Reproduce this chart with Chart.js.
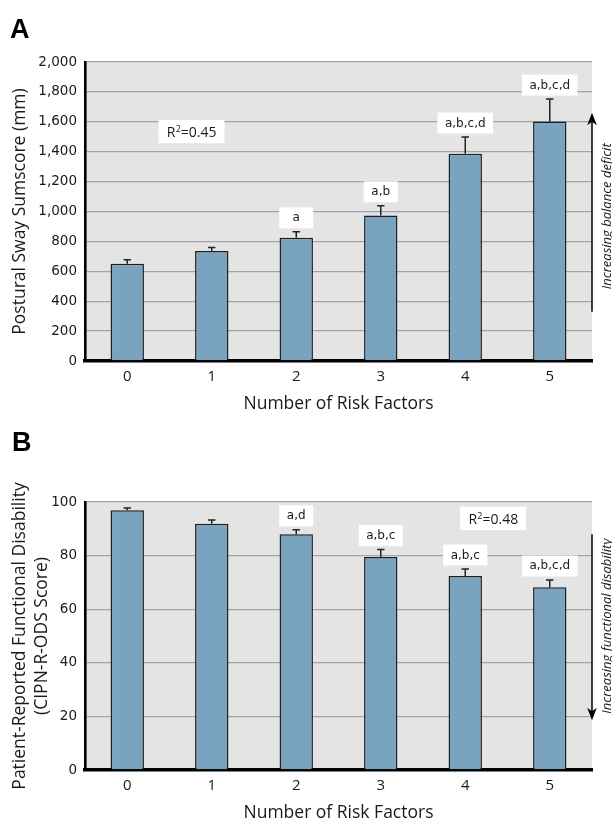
<!DOCTYPE html>
<html><head><meta charset="utf-8">
<script src="https://cdn.jsdelivr.net/npm/chart.js@4.4.0/dist/chart.umd.min.js"></script>
<style>
html,body{margin:0;padding:0;background:#fff;}
#wrap{position:relative;width:612px;height:822px;overflow:hidden;background:#fff;}
canvas{position:absolute;left:0;}
#cA{top:0;} #cB{top:420px;}
</style></head><body>
<div id="wrap"><canvas id="cA" width="612" height="420"></canvas><canvas id="cB" width="612" height="402"></canvas></div>
<script>
// ---------- data ----------
const categories = ['0', '1', '2', '3', '4', '5'];
const swayMeans = [650, 735, 825, 973, 1386, 1602];
const swayErrors = [28, 24, 39, 65, 112, 150];
const swayLetters = ['', '', 'a', 'a,b', 'a,b,c,d', 'a,b,c,d'];
const disabilityMeans = [96.9, 91.9, 88.0, 79.5, 72.4, 68.2];
const disabilityErrors = [0.9, 1.4, 1.6, 2.8, 2.6, 2.7];
const disabilityLetters = ['', '', 'a,d', 'a,b,c', 'a,b,c', 'a,b,c,d'];
const swayTicks = [0, 200, 400, 600, 800, 1000, 1200, 1400, 1600, 1800, 2000];
const disabilityTicks = [0, 20, 40, 60, 80, 100];
const swayR2 = '0.45';
const disabilityR2 = '0.48';

// ---------- styles ----------
const FONT = '"Open Sans", "DejaVu Sans", sans-serif';
const TICKFONT = '"DejaVu Sans", sans-serif';
const BAR_FILL = '#79a3bf';
const BAR_EDGE = '#1e1e1e';
const PLOT_BG = '#e4e4e4';
const GRID = '#a3a3a3';
const INK = '#1a1a1a';

function panelPlugin(p) {
  return {
    id: 'panel' + p.letter,
    beforeDraw(chart) {
      const {ctx, chartArea: a} = chart;
      ctx.save();
      ctx.fillStyle = PLOT_BG;
      ctx.fillRect(a.left, a.top, a.right - a.left, a.bottom - a.top);
      ctx.restore();
    },
    afterDatasetsDraw(chart) {
      const {ctx} = chart;
      const xs = chart.scales.x, ys = chart.scales.y;
      const means = p.means, errs = p.errors;
      ctx.save();
      // error bars
      ctx.strokeStyle = '#222';
      ctx.lineWidth = 1.5;
      for (let i = 0; i < means.length; i++) {
        const x = xs.getPixelForValue(i);
        const y0 = ys.getPixelForValue(means[i]);
        const y1 = ys.getPixelForValue(means[i] + errs[i]);
        ctx.beginPath();
        ctx.moveTo(x, y0); ctx.lineTo(x, y1);
        ctx.moveTo(x - 3.7, y1); ctx.lineTo(x + 3.7, y1);
        ctx.stroke();
      }
      // significance letters
      ctx.font = '12px ' + TICKFONT;
      ctx.textAlign = 'center';
      ctx.textBaseline = 'alphabetic';
      for (let i = 0; i < means.length; i++) {
        const t = p.letters[i];
        if (!t) continue;
        const x = xs.getPixelForValue(i);
        const yc = ys.getPixelForValue(means[i] + errs[i]) - 14;
        const w = Math.max(34, ctx.measureText(t).width + 15);
        ctx.fillStyle = '#fff';
        ctx.fillRect(x - w / 2, yc - 10.5, w, 21);
        ctx.fillStyle = INK;
        ctx.fillText(t, x, yc + 3.5);
      }
      // R^2 box
      const rx = xs.getPixelForValue(p.r2At[0]);
      const ry = ys.getPixelForValue(p.r2At[1]);
      ctx.fillStyle = '#fff';
      ctx.fillRect(rx - 33, ry - 11.7, 66, 23.4);
      const fBig = '14px ' + FONT, fSup = '9px ' + FONT;
      ctx.font = fBig;
      const wR = ctx.measureText('R').width;
      const rest = '=' + p.r2;
      const wRest = ctx.measureText(rest).width;
      ctx.font = fSup;
      const w2 = ctx.measureText('2').width;
      let sx = rx - (wR + w2 + wRest) / 2;
      ctx.textAlign = 'left';
      ctx.fillStyle = INK;
      ctx.font = fBig; ctx.fillText('R', sx, ry + 5.5);
      ctx.font = fSup; ctx.fillText('2', sx + wR + 0.3, ry + 0.8);
      ctx.font = fBig; ctx.fillText(rest, sx + wR + w2 + 0.3, ry + 5.5);
      ctx.restore();
    },
    afterDraw(chart) {
      const {ctx, chartArea: a} = chart;
      const ys = chart.scales.y;
      ctx.save();
      // arrow
      const ax = a.right;
      const yFrom = ys.getPixelForValue(p.arrow[0]);
      const yTo = ys.getPixelForValue(p.arrow[1]);
      const dir = yTo < yFrom ? -1 : 1;
      ctx.strokeStyle = '#000';
      ctx.fillStyle = '#000';
      ctx.lineWidth = 1.5;
      ctx.beginPath();
      ctx.moveTo(ax, yFrom); ctx.lineTo(ax, yTo - dir * 8);
      ctx.stroke();
      ctx.beginPath();
      ctx.moveTo(ax, yTo);
      ctx.lineTo(ax - 4.8, yTo - dir * 12.5);
      ctx.lineTo(ax, yTo - dir * 9);
      ctx.lineTo(ax + 4.8, yTo - dir * 12.5);
      ctx.closePath();
      ctx.fill();
      // arrow caption
      ctx.fillStyle = INK;
      ctx.font = 'italic 13px ' + FONT;
      ctx.textAlign = 'center';
      ctx.textBaseline = 'middle';
      ctx.save();
      ctx.translate(ax + 15, (yFrom + yTo) / 2 + p.captionShift);
      ctx.rotate(-Math.PI / 2);
      ctx.fillText(p.caption, 0, 0);
      ctx.restore();
      // y title
      ctx.font = '17.5px ' + FONT;
      const midY = (a.top + a.bottom) / 2;
      p.yTitle.forEach((line, k) => {
        ctx.save();
        ctx.translate(p.yTitleX[k], midY);
        ctx.rotate(-Math.PI / 2);
        ctx.fillText(line, 0, 0);
        ctx.restore();
      });
      // x title
      ctx.textBaseline = 'alphabetic';
      ctx.fillText('Number of Risk Factors', (a.left + a.right) / 2, a.bottom + 47.8);
      // panel letter
      ctx.font = 'bold 27px "Liberation Sans", Arial, sans-serif';
      ctx.textAlign = 'left';
      ctx.fillStyle = '#000';
      ctx.fillText(p.letter, p.letterPos[0], p.letterPos[1]);
      ctx.restore();
    }
  };
}

function makeChart(id, p) {
  const ticks = p.ticks;
  return new Chart(document.getElementById(id), {
    type: 'bar',
    data: {
      labels: categories,
      datasets: [{
        data: p.means,
        backgroundColor: BAR_FILL,
        borderColor: BAR_EDGE,
        borderWidth: 1.5,
        barPercentage: 0.395,
        categoryPercentage: 1.0
      }]
    },
    options: {
      responsive: false,
      animation: false,
      locale: 'en-US',
      devicePixelRatio: 1,
      layout: {padding: {left: 0, right: 20, top: p.padTop, bottom: 0}},
      plugins: {legend: {display: false}, tooltip: {enabled: false}, title: {display: false}},
      scales: {
        x: {
          grid: {display: false, drawTicks: false},
          border: {display: true, color: '#000', width: 3.5},
          ticks: {color: INK, font: {family: FONT, size: 15}, padding: 7},
          afterFit(s) { s.height = p.xHeight; }
        },
        y: {
          min: ticks[0], max: ticks[ticks.length - 1],
          afterBuildTicks(s) { s.ticks = ticks.map(v => ({value: v})); },
          grid: {color: GRID, lineWidth: 1.3, drawTicks: false},
          border: {display: true, color: '#000', width: 2.6},
          ticks: {color: INK, font: {family: TICKFONT, size: 13.5}, padding: 8,
                  callback: v => v.toLocaleString('en-US')},
          afterFit(s) { s.width = 85; }
        }
      }
    },
    plugins: [panelPlugin(p)]
  });
}

makeChart('cA', {
  letter: 'A', letterPos: [10, 38],
  means: swayMeans, errors: swayErrors, letters: swayLetters, ticks: swayTicks,
  r2: swayR2, r2At: [0.76, 1535],
  arrow: [330, 1660], caption: 'Increasing balance deficit', captionShift: 4,
  yTitle: ['Postural Sway Sumscore (mm)'], yTitleX: [20.5],
  padTop: 62, xHeight: 59
});
makeChart('cB', {
  letter: 'B', letterPos: [12, 31],
  means: disabilityMeans, errors: disabilityErrors, letters: disabilityLetters, ticks: disabilityTicks,
  r2: disabilityR2, r2At: [4.33, 93.9],
  arrow: [88, 18.6], caption: 'Increasing functional disability', captionShift: -1,
  yTitle: ['Patient-Reported Functional Disability', '(CIPN-R-ODS Score)'], yTitleX: [20, 42],
  padTop: 82, xHeight: 52
});
</script>
</body></html>
